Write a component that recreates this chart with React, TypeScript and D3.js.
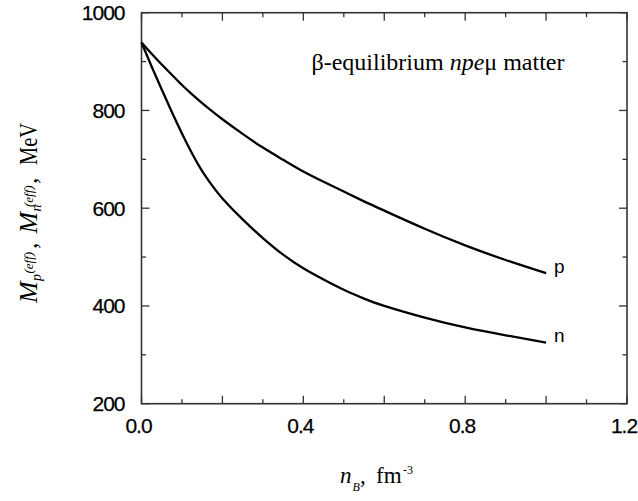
import React from "react";
import * as d3 from "d3";

const nB = [0, 0.025, 0.05, 0.075, 0.1, 0.125, 0.15, 0.175, 0.2, 0.25, 0.3, 0.35, 0.4, 0.45, 0.5, 0.55, 0.6, 0.7, 0.8, 0.9, 1.0];
const massP = [939, 916, 894, 873, 852, 833, 815, 798, 782, 752, 724, 699, 675, 654, 634, 614, 595, 558, 524, 494, 467];
const massN = [939, 890, 843, 797, 753, 712, 676, 646, 620, 577, 539, 505, 477, 454, 433, 415, 400, 376, 356, 340, 325];
const curveLabels = ["p", "n"];
const xMajorTicks = [0, 0.2, 0.4, 0.6, 0.8, 1.0, 1.2];
const xMinorTicks = [0.1, 0.3, 0.5, 0.7, 0.9, 1.1];
const xLabelTicks = [0, 0.4, 0.8, 1.2];
const yMajorTicks = [200, 400, 600, 800, 1000];
const yMinorTicks = [300, 500, 700, 900];

const W = 638;
const H = 501;
const L = 141.5, R = 627, T = 12.7, B = 403.7;

export default function App() {
  const x = d3.scaleLinear().domain([0, 1.2]).range([L, R]);
  const y = d3.scaleLinear().domain([200, 1000]).range([B, T]);
  const line = d3
    .line<number>()
    .x((_, i) => x(nB[i]))
    .y((d) => y(d))
    .curve(d3.curveNatural);
  const series = [massP, massN];
  const axisColor = "#333";
  const sans = "'Liberation Sans', Arial, sans-serif";
  const serif = "'Liberation Serif', 'Times New Roman', serif";
  const majorLen = 8, minorLen = 4.5;

  return (
    <svg width={W} height={H} style={{ position: "absolute", left: 0, top: 0, background: "#fff" }}>
      <rect x={0} y={0} width={W} height={H} fill="#fff" />
      {/* ticks */}
      <g stroke={axisColor} strokeWidth={1.3}>
        {xMajorTicks.map((t) => (
          <g key={"xm" + t}>
            <line x1={x(t)} x2={x(t)} y1={B} y2={B - majorLen} />
            <line x1={x(t)} x2={x(t)} y1={T} y2={T + majorLen} />
          </g>
        ))}
        {xMinorTicks.map((t) => (
          <g key={"xn" + t}>
            <line x1={x(t)} x2={x(t)} y1={B} y2={B - minorLen} />
            <line x1={x(t)} x2={x(t)} y1={T} y2={T + minorLen} />
          </g>
        ))}
        {yMajorTicks.map((t) => (
          <g key={"ym" + t}>
            <line x1={L} x2={L + majorLen} y1={y(t)} y2={y(t)} />
            <line x1={R} x2={R - majorLen} y1={y(t)} y2={y(t)} />
          </g>
        ))}
        {yMinorTicks.map((t) => (
          <g key={"yn" + t}>
            <line x1={L} x2={L + minorLen} y1={y(t)} y2={y(t)} />
            <line x1={R} x2={R - minorLen} y1={y(t)} y2={y(t)} />
          </g>
        ))}
      </g>
      <rect x={L} y={T} width={R - L} height={B - T} fill="none" stroke={axisColor} strokeWidth={1.6} />

      {/* curves */}
      {series.map((s, i) => (
        <path key={i} d={line(s) || ""} fill="none" stroke="#000" strokeWidth={2.3} />
      ))}
      {series.map((s, i) => (
        <text
          key={"lab" + i}
          x={x(nB[nB.length - 1]) + 8}
          y={y(s[s.length - 1]) + (i === 0 ? 0 : -1)}
          fontFamily={sans}
          fontSize={19}
          fill="#000"
        >
          {curveLabels[i]}
        </text>
      ))}

      {/* tick labels */}
      <g fontFamily={sans} fontSize={21} fill="#000" stroke="#000" strokeWidth={0.25} letterSpacing={-1}>
        {yMajorTicks.map((t) => (
          <text key={"yl" + t} x={L - 17} y={y(t) + 7.5} textAnchor="end">
            {String(t)}
          </text>
        ))}
        {xLabelTicks.map((t) => (
          <text key={"xl" + t} x={x(t) - 3} y={B + 29} textAnchor="middle">
            {t.toFixed(1)}
          </text>
        ))}
      </g>

      {/* annotation */}
      <text x={311.5} y={70} style={{ fontFamily: serif }} fontSize={23.5} fill="#000" textLength={253} lengthAdjust="spacingAndGlyphs">
        β-equilibrium <tspan fontStyle="italic">npe</tspan>μ matter
      </text>

      {/* x axis title */}
      <g fontFamily={serif} fill="#000">
        <text x={340} y={483} fontSize={23} fontStyle="italic">n</text>
        <text x={352.5} y={491} fontSize={12} fontStyle="italic">B</text>
        <text x={360} y={483} fontSize={23}>,</text>
        <text x={376} y={483} fontSize={23}>fm</text>
        <text x={403} y={474} fontSize={12}>-3</text>
      </g>

      {/* y axis title */}
      <g transform="translate(36.5,303) rotate(-90)" fontFamily={serif} fill="#000">
        <text x={0} y={0} fontSize={26} fontStyle="italic">M</text>
        <text x={22} y={4} fontSize={14} fontStyle="italic">p</text>
        <text x={29.5} y={-3.5} fontSize={13} fontStyle="italic">(eff)</text>
        <text x={54} y={0} fontSize={26}>,</text>
        <text x={69.5} y={0} fontSize={26} fontStyle="italic">M</text>
        <text x={91.5} y={4} fontSize={14} fontStyle="italic">n</text>
        <text x={96} y={-3.5} fontSize={13} fontStyle="italic">(eff)</text>
        <text x={119} y={0} fontSize={26}>,</text>
        <text x={138} y={0} fontSize={26} textLength={42} lengthAdjust="spacingAndGlyphs">MeV</text>
      </g>
    </svg>
  );
}
